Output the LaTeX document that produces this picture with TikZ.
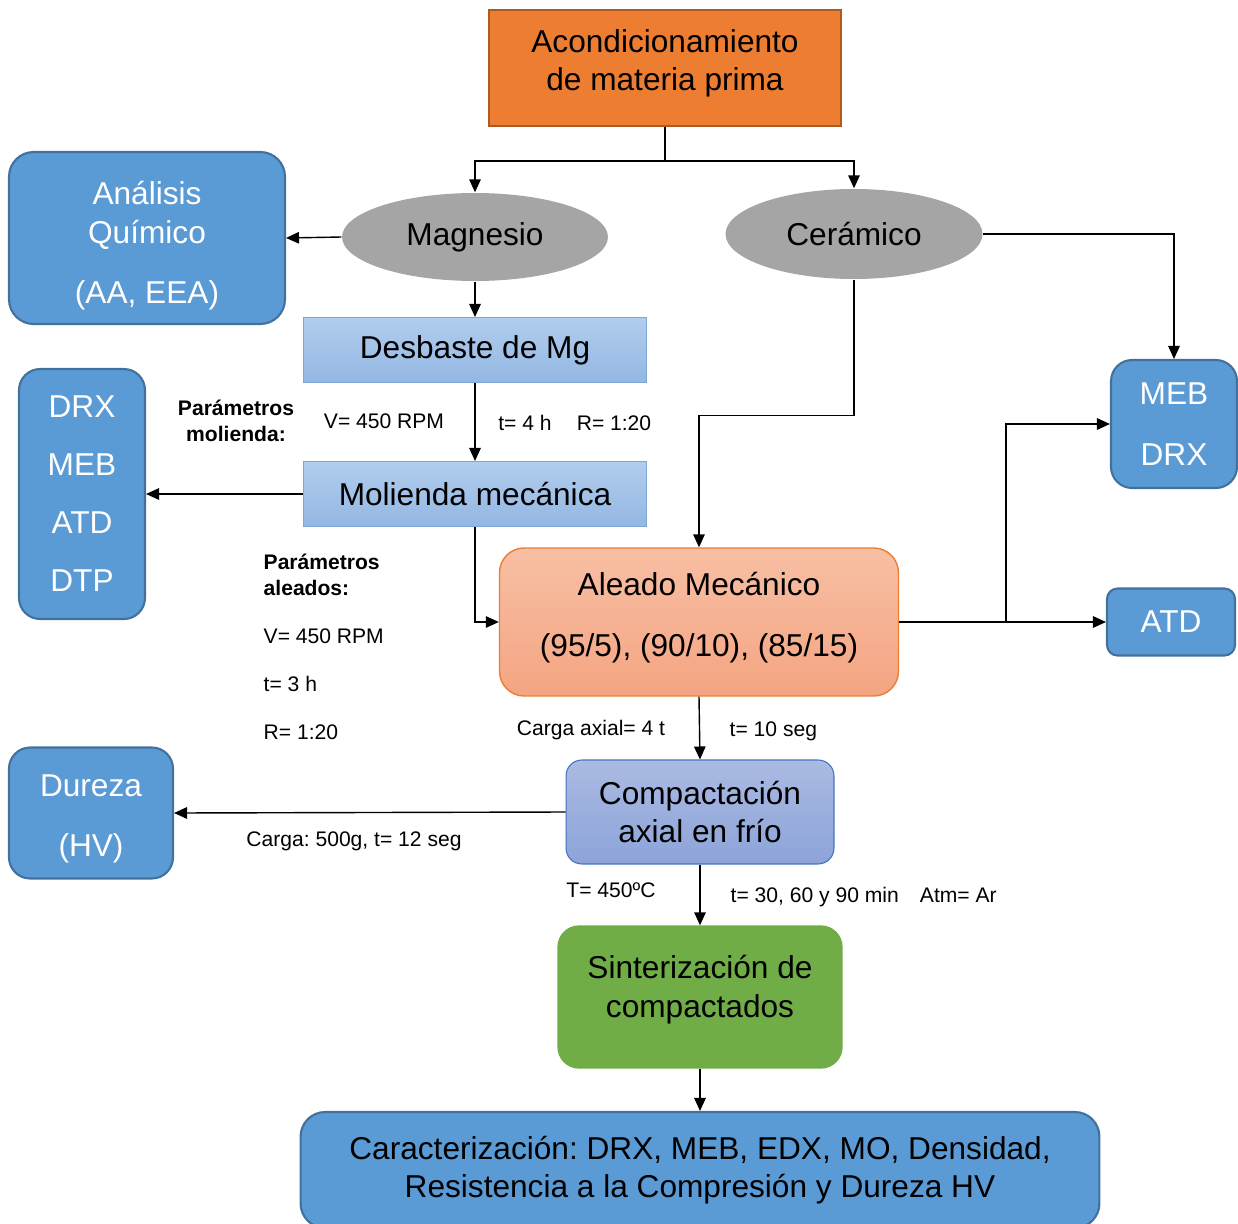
\documentclass[tikz,border=0pt]{standalone}
\usepackage{fontspec}
\setmainfont{Liberation Sans}
\usetikzlibrary{arrows.meta, positioning, shapes.geometric}
\definecolor{corange}{HTML}{ED7D31}
\definecolor{corangedk}{HTML}{AE5A21}
\definecolor{cblue}{HTML}{5B9BD5}
\definecolor{cbluedk}{HTML}{41719C}
\definecolor{cgrey}{HTML}{A5A5A5}
\definecolor{clighttop}{HTML}{B1CDEE}
\definecolor{clightbot}{HTML}{93B7E2}
\definecolor{clightdk}{HTML}{7DA7D9}
\definecolor{csalmtop}{HTML}{F8BFA4}
\definecolor{csalmbot}{HTML}{F4A582}
\definecolor{clavtop}{HTML}{AABAE2}
\definecolor{clavbot}{HTML}{8DA4D9}
\definecolor{clavdk}{HTML}{4472C4}
\definecolor{cgreen}{HTML}{70AD47}
\newcommand{\bigtxt}{\fontsize{18}{22}\selectfont}
\newcommand{\smalltxt}{\fontsize{12}{14.7}\selectfont}
\frenchspacing
\tikzset{
  every picture/.style={font=\bigtxt, line width=0.8pt},
  blk/.style={draw=cbluedk, fill=cblue, rounded corners=#1, text=white, align=center, line width=1.2pt, inner sep=0pt},
  blk/.default=10pt,
  flat/.style={draw=clightdk, top color=clighttop, bottom color=clightbot, line width=0.6pt, minimum width=6.88cm, minimum height=1.3cm},
  oval/.style={ellipse, fill=cgrey, inner sep=0pt},
  arrow/.style={-{Triangle[length=2.6mm, width=2.3mm]}, line width=0.8pt},
  param/.style={font=\smalltxt, align=left},
}
\begin{document}
\begin{tikzpicture}[x=0.02cm, y=-0.02cm]
  \useasboundingbox (0,0) rectangle (1238,1224);
  % main line
  \node[draw=corangedk, fill=corange, line width=1.2pt, align=center, minimum width=7.04cm, minimum height=2.32cm] (acond) at (665,68) {Acondicionamiento\\de materia prima\rule[-9pt]{0pt}{0pt}};
  \node[oval, minimum width=5.32cm, minimum height=1.76cm] (mag) at (475,237) {Magnesio};
  \node[oval, minimum width=5.14cm, minimum height=1.8cm] (cer) at (854,234) {Cerámico};
  \node[flat] (desb) at (475,350) {Desbaste de Mg};
  \node[flat] (mol) at (475,494) {Molienda mecánica};
  \node[draw=corange, top color=csalmtop, bottom color=csalmbot, rounded corners=14pt, align=center, minimum width=7.98cm, minimum height=2.96cm] (ale) at (699,622) {Aleado Mecánico\\[12.5pt](95/5), (90/10), (85/15)\rule[-9pt]{0pt}{0pt}};
  \node[draw=clavdk, top color=clavtop, bottom color=clavbot, rounded corners=9pt, align=center, line width=0.6pt, minimum width=5.36cm, minimum height=2.08cm] (comp) at (700,812) {Compactación\\axial en frío};
  \node[draw=cgreen, fill=cgreen, rounded corners=12pt, align=center, minimum width=5.68cm, minimum height=2.84cm] (sin) at (700,997) {Sinterización de\\compactados\rule[-12pt]{0pt}{0pt}};
  \node[blk=14pt, text=black, minimum width=15.98cm, minimum height=2.32cm] (car) at (700,1170) {Caracterización: DRX, MEB, EDX, MO, Densidad,\\Resistencia a la Compresión y Dureza HV};
  % side boxes
  \node[blk=14pt, minimum width=5.52cm, minimum height=3.44cm] (ana) at (147,238) {\rule{0pt}{22pt}Análisis\\Químico\\[12.5pt](AA, EEA)};
  \node[blk=12pt, minimum width=2.52cm, minimum height=5cm] (drx) at (82,494) {DRX\\[11pt]MEB\\[11pt]ATD\\[11pt]DTP};
  \node[blk=12pt, minimum width=2.52cm, minimum height=2.56cm] (meb) at (1174,424) {MEB\\[12.5pt]DRX};
  \node[blk=6pt, minimum width=2.56cm, minimum height=1.34cm] (atd) at (1171,622) {ATD};
  \node[blk=12pt, minimum width=3.28cm, minimum height=2.62cm] (dur) at (91,813) {\rule{0pt}{19pt}Dureza\\[12.5pt](HV)};
  % parameters
  \node[param, font=\smalltxt\bfseries, align=center] (pmol) at (236,421) {Parámetros\\molienda:};
  \node[param] (vmol) at (384,421) {V= 450 RPM};
  \node[param] (tmol) at (525,423) {t= 4 h};
  \node[param] (rmol) at (614,423) {R= 1:20};
  \node[param, font=\smalltxt\bfseries, anchor=west, inner sep=0pt] (pale) at (263,575) {Parámetros\\aleados:};
  \node[param, anchor=west, inner sep=0pt] (vale) at (263,636) {V= 450 RPM};
  \node[param, anchor=west, inner sep=0pt] (tale) at (263,684) {t= 3 h};
  \node[param, anchor=west, inner sep=0pt] (rale) at (263,732) {R= 1:20};
  \node[param] (carga) at (591,730) {Carga axial= 4 t};
  \node[param, anchor=west, inner sep=0pt] (tcomp) at (729,731) {t= 10 seg};
  \node[param] (cdur) at (354,841) {Carga: 500g, t= 12 seg};
  \node[param] (temp) at (611,890) {T= 450ºC};
  \node[param, anchor=west, inner sep=0pt] (tsin) at (730,897) {t= 30, 60 y 90 min\hspace{12pt}Atm= Ar};
  % connectors
  \draw[arrow] (acond.south) -- ++(0,34) -| (mag.north);
  \draw[arrow] (acond.south) -- ++(0,34) -| (cer.north);
  \draw[arrow] (mag.west) -- (ana.east);
  \draw[arrow] (mag.south) -- (desb.north);
  \draw[arrow] (desb.south) -- (mol.north);
  \draw[arrow] (mol.west) -- (drx.east);
  \draw[arrow] (mol.south) |- (ale.west);
  \draw[arrow] (cer.south) -- ++(0,136) -| (ale.north);
  \draw[arrow] (cer.east) -| (meb.north);
  \draw[arrow] (ale.east) -- (atd.west);
  \draw[arrow] (ale.east) -- ++(107,0) |- (meb.west);
  \draw[arrow] (ale.south) -- (comp.north);
  \draw[arrow] (comp.west) -- (dur.east);
  \draw[arrow] (comp.south) -- (sin.north);
  \draw[arrow] (sin.south) -- (car.north);
\end{tikzpicture}
\end{document}
